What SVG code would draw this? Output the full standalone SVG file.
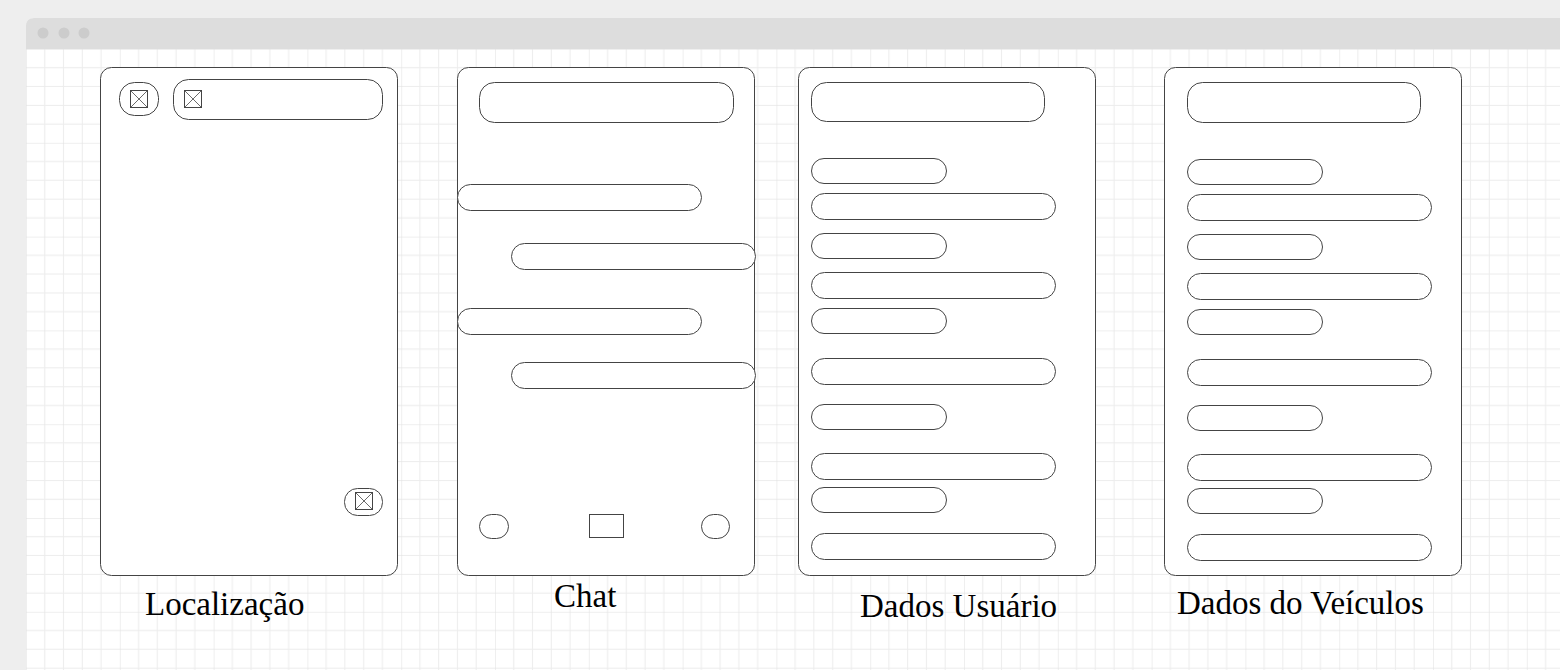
<svg xmlns="http://www.w3.org/2000/svg" width="1560" height="670" viewBox="0 0 1560 670">
  <defs>
    <pattern id="grid" x="26" y="49" width="93.8" height="93.8" patternUnits="userSpaceOnUse">
      <path d="M18.76 0V93.8M37.52 0V93.8M56.28 0V93.8M75.04 0V93.8M0 18.76H93.8M0 37.52H93.8M0 56.28H93.8M0 75.04H93.8" stroke="#ececec" stroke-width="1" fill="none"/>
      <path d="M0 0V93.8M0 0H93.8" stroke="#e0e0e0" stroke-width="1" fill="none"/>
    </pattern>
    <g id="img">
      <rect x="0" y="0" width="17" height="17" fill="none" stroke="#444" stroke-width="1"/>
      <path d="M0 0L17 17M17 0L0 17" stroke="#444" stroke-width="0.8" fill="none"/>
    </g>
  </defs>
  <style>
    .frame { fill: #fff; stroke: #444; stroke-width: 1; }
    .el { fill: #fff; stroke: #444; stroke-width: 1; }
    .label { font-family: "Liberation Serif", "Times New Roman", serif; font-size: 33px; fill: #000; }
  </style>

  <rect x="0" y="0" width="1560" height="670" fill="#eeeeee"/>
  <path d="M26 26 Q26 18 34 18 H1560 V670 H26 Z" fill="#ffffff"/>
  <rect x="26" y="49" width="1534" height="621" fill="url(#grid)"/>
  <path d="M26 26 Q26 18 34 18 H1560 V49 H26 Z" fill="#dddddd"/>
  <circle cx="43" cy="33" r="5.5" fill="#cccccc"/>
  <circle cx="64" cy="33" r="5.5" fill="#cccccc"/>
  <circle cx="84" cy="33" r="5.5" fill="#cccccc"/>

  <g id="connectors"></g>

  <g id="localizacao">
    <rect class="frame" x="100.5" y="67.5" width="297" height="508" rx="11"/>
    <rect class="el" x="119.5" y="82.5" width="39" height="33" rx="15"/>
    <use href="#img" x="130.5" y="90.5"/>
    <rect class="el" x="173.5" y="79.5" width="209" height="40" rx="15"/>
    <use href="#img" x="184.5" y="90.5"/>
    <rect class="el" x="344.5" y="488.5" width="38" height="27" rx="13"/>
    <use href="#img" x="355.5" y="492.5"/>
    <text class="label" x="145" y="615">Localização</text>
  </g>

  <g id="chat">
    <rect class="frame" x="457.5" y="67.5" width="297" height="508" rx="11"/>
    <rect class="el" x="479.5" y="82.5" width="254" height="40" rx="15"/>
    <rect class="el" x="457.5" y="184.5" width="244" height="26" rx="13"/>
    <rect class="el" x="511.5" y="243.5" width="244" height="26" rx="13"/>
    <rect class="el" x="457.5" y="308.5" width="244" height="26" rx="13"/>
    <rect class="el" x="511.5" y="362.5" width="244" height="26" rx="13"/>
    <rect class="el" x="479.5" y="514.5" width="29" height="24" rx="12"/>
    <rect class="el" x="589.5" y="514.5" width="34" height="23"/>
    <rect class="el" x="701.5" y="514.5" width="28" height="24" rx="12"/>
    <text class="label" x="554" y="607">Chat</text>
  </g>

  <g id="dados-usuario">
    <rect class="frame" x="798.5" y="67.5" width="297" height="508" rx="11"/>
    <rect class="el" x="811.5" y="82.5" width="233" height="39" rx="15"/>
    <rect class="el" x="811.5" y="158.5" width="135" height="25" rx="12.5"/>
    <rect class="el" x="811.5" y="193.5" width="244" height="26" rx="13"/>
    <rect class="el" x="811.5" y="233.5" width="135" height="25" rx="12.5"/>
    <rect class="el" x="811.5" y="272.5" width="244" height="26" rx="13"/>
    <rect class="el" x="811.5" y="308.5" width="135" height="25" rx="12.5"/>
    <rect class="el" x="811.5" y="358.5" width="244" height="26" rx="13"/>
    <rect class="el" x="811.5" y="404.5" width="135" height="25" rx="12.5"/>
    <rect class="el" x="811.5" y="453.5" width="244" height="26" rx="13"/>
    <rect class="el" x="811.5" y="487.5" width="135" height="25" rx="12.5"/>
    <rect class="el" x="811.5" y="533.5" width="244" height="26" rx="13"/>
    <text class="label" x="860" y="617">Dados Usuário</text>
  </g>

  <g id="dados-veiculos">
    <rect class="frame" x="1164.5" y="67.5" width="297" height="508" rx="11"/>
    <rect class="el" x="1187.5" y="82.5" width="233" height="40" rx="15"/>
    <rect class="el" x="1187.5" y="159.5" width="135" height="25" rx="12.5"/>
    <rect class="el" x="1187.5" y="194.5" width="244" height="26" rx="13"/>
    <rect class="el" x="1187.5" y="234.5" width="135" height="25" rx="12.5"/>
    <rect class="el" x="1187.5" y="273.5" width="244" height="26" rx="13"/>
    <rect class="el" x="1187.5" y="309.5" width="135" height="25" rx="12.5"/>
    <rect class="el" x="1187.5" y="359.5" width="244" height="26" rx="13"/>
    <rect class="el" x="1187.5" y="405.5" width="135" height="25" rx="12.5"/>
    <rect class="el" x="1187.5" y="454.5" width="244" height="26" rx="13"/>
    <rect class="el" x="1187.5" y="488.5" width="135" height="25" rx="12.5"/>
    <rect class="el" x="1187.5" y="534.5" width="244" height="26" rx="13"/>
    <text class="label" x="1177" y="614">Dados do Veículos</text>
  </g>
</svg>
